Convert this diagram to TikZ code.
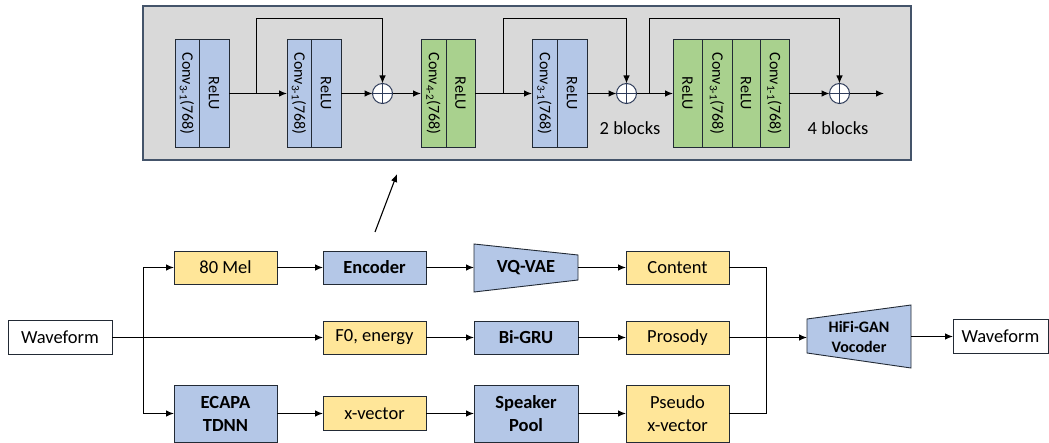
\documentclass[tikz,border=0pt]{standalone}
\usepackage{fontspec}
\setmainfont{Carlito}
\usetikzlibrary{arrows.meta}
\definecolor{bblue}{HTML}{B4C7E7}
\definecolor{byellow}{HTML}{FFE699}
\definecolor{bgreen}{HTML}{A9D18E}
\definecolor{bgray}{HTML}{D9D9D9}
\definecolor{bframe}{HTML}{44546A}
\definecolor{edgec}{HTML}{222A35}
\definecolor{circc}{HTML}{2F3C5A}
\begin{document}
\begin{tikzpicture}[x=1pt,y=-1pt,
  box/.style={draw=edgec, line width=0.9pt, inner sep=0pt, outer sep=0pt, minimum width=103pt, minimum height=33pt, align=center, font=\fontsize{18.5}{23}\selectfont},
  yel/.style={box, fill=byellow},
  blu/.style={box, fill=bblue, font=\fontsize{18.5}{23}\selectfont\bfseries},
  wht/.style={box, fill=white},
  shapelbl/.style={inner sep=0pt, outer sep=0pt, align=center},
  cell/.style={draw=edgec, line width=0.9pt, inner sep=0pt, outer sep=0pt, minimum height=108pt},
  rot/.style={rotate=-90, inner sep=0pt, font=\fontsize{16}{18}\selectfont},
  sumc/.style={draw=circc, line width=1pt, fill=white, circle, minimum size=20pt, inner sep=0pt, outer sep=0pt},
  arr/.style={line width=1.1pt, -{Latex[length=8pt,width=6.5pt]}},
  ln/.style={line width=1.1pt},
  lbl/.style={inner sep=0pt, font=\fontsize{18.5}{20}\selectfont}
]
\useasboundingbox (0,0) rectangle (1049,443);

% ---------- top panel ----------
\draw[fill=bgray, draw=bframe, line width=1.2pt] (143,6) rectangle (911,160);

% block 1
\node[cell, fill=bblue, minimum width=24pt] (b1a) at (187,93.5) {};
\node[cell, fill=bblue, minimum width=30pt] (b1b) at (214,93.5) {};
\node[rot] at (b1a) {Conv\textsubscript{3-1}(768)};
\node[rot] at (b1b) {ReLU};
% block 2
\node[cell, fill=bblue, minimum width=24pt] (b2a) at (299,93.5) {};
\node[cell, fill=bblue, minimum width=30pt] (b2b) at (326,93.5) {};
\node[rot] at (b2a) {Conv\textsubscript{3-1}(768)};
\node[rot] at (b2b) {ReLU};
% block 3
\node[cell, fill=bgreen, minimum width=25pt] (b3a) at (433.5,93.5) {};
\node[cell, fill=bgreen, minimum width=29pt] (b3b) at (460.5,93.5) {};
\node[rot] at (b3a) {Conv\textsubscript{4-2}(768)};
\node[rot] at (b3b) {ReLU};
% block 4
\node[cell, fill=bblue, minimum width=25pt] (b4a) at (544.5,93.5) {};
\node[cell, fill=bblue, minimum width=30pt] (b4b) at (572,93.5) {};
\node[rot] at (b4a) {Conv\textsubscript{3-1}(768)};
\node[rot] at (b4b) {ReLU};
% block 5
\node[cell, fill=bgreen, minimum width=29pt] (b5a) at (687.5,93.5) {};
\node[cell, fill=bgreen, minimum width=30pt] (b5b) at (717,93.5) {};
\node[cell, fill=bgreen, minimum width=28pt] (b5c) at (746,93.5) {};
\node[cell, fill=bgreen, minimum width=29pt] (b5d) at (774.5,93.5) {};
\node[rot] at (b5a) {ReLU};
\node[rot] at (b5b) {Conv\textsubscript{3-1}(768)};
\node[rot] at (b5c) {ReLU};
\node[rot] at (b5d) {Conv\textsubscript{1-1}(768)};

% sums
\node[sumc] (c1) at (382.5,93.5) {};
\node[sumc] (c2) at (626.5,93.5) {};
\node[sumc] (c3) at (839.5,93.5) {};
\foreach \c in {c1,c2,c3}{
  \draw[draw=circc, line width=1pt] (\c.north) -- (\c.south) (\c.west) -- (\c.east);
}

\coordinate (s1) at (256.5,93.5);
\coordinate (s2) at (503.5,93.5);
\coordinate (s3) at (649.5,93.5);
\coordinate (out) at (884,93.5);

\draw[arr] (b1b.east) -- (b2a.west);
\draw[arr] (b2b.east) -- (c1.west);
\draw[arr] (c1.east) -- (b3a.west);
\draw[arr] (b3b.east) -- (b4a.west);
\draw[arr] (b4b.east) -- (c2.west);
\draw[arr] (c2.east) -- (b5a.west);
\draw[arr] (b5d.east) -- (c3.west);
\draw[arr] (c3.east) -- (out);

\draw[arr] (s1) -- ++(0,-75) -| (c1.north);
\draw[arr] (s2) -- ++(0,-75) -| (c2.north);
\draw[arr] (s3) -- ++(0,-75) -| (c3.north);

\node[lbl] (t2) at (630,128) {2 blocks};
\node[lbl] (t4) at (838,128) {4 blocks};

% pointer arrow
\coordinate (pa) at (375,232);
\coordinate (pb) at (397,174);
\draw[arr] (pa) -- (pb);

% ---------- bottom ----------
\node[wht, minimum width=104pt, minimum height=34pt] (wf) at (60,337.5) {Waveform};
\node[yel] (mel) at (225.5,267.5) {80 Mel};
\node[blu] (enc) at (374.5,267.5) {Encoder};
\node[yel] (f0) at (374.5,337.5) {F0, energy};
\node[blu, minimum height=57pt] (ecapa) at (225.5,413.5) {ECAPA\\TDNN};
\node[yel, minimum height=34pt] (xvec) at (374.5,413.5) {x-vector};

\draw[fill=bblue, draw=edgec, line width=0.9pt] (474,244) -- (578,255) -- (578,280) -- (474,292) -- cycle;
\node[shapelbl, minimum width=104pt, minimum height=33pt, font=\fontsize{18.5}{23}\selectfont\bfseries] (vq) at (526,267.5) {VQ-VAE};
\node[blu, minimum width=104pt] (bigru) at (526,337.5) {Bi-GRU};
\node[blu, minimum width=104pt, minimum height=57pt] (spk) at (526,413.5) {Speaker\\Pool};

\node[yel] (content) at (677.5,267.5) {Content};
\node[yel] (prosody) at (677.5,337.5) {Prosody};
\node[yel, minimum height=57pt] (pseudo) at (677.5,413.5) {Pseudo\\x-vector};

\draw[fill=bblue, draw=edgec, line width=0.9pt] (807,319) -- (911,305) -- (911,368) -- (807,353) -- cycle;
\node[shapelbl, minimum width=104pt, minimum height=34pt, font=\fontsize{16}{20}\selectfont\bfseries] (hifi) at (859,337) {HiFi-GAN\\Vocoder};
\node[wht, minimum width=95pt, minimum height=34pt] (wfo) at (1000.5,336.5) {Waveform};

\coordinate (br) at (143.5,337.5);
\coordinate (mg) at (766.5,337.5);

\draw[arr] (wf.east) -- (f0.west);
\draw[arr] (br) |- (mel.west);
\draw[arr] (br) |- (ecapa.west);
\draw[arr] (mel) -- (enc);
\draw[arr] (enc) -- (vq);
\draw[arr] (vq) -- (content);
\draw[arr] (f0) -- (bigru);
\draw[arr] (bigru) -- (prosody);
\draw[arr] (ecapa.east |- xvec) -- (xvec.west);
\draw[arr] (xvec.east |- spk) -- (spk.west);
\draw[arr] (spk) -- (pseudo);
\draw[ln] (content.east) -| (mg) |- (pseudo.east);
\draw[arr] (prosody.east) -- (hifi.west |- prosody.east);
\draw[arr] (hifi.east |- wfo) -- (wfo.west);
\end{tikzpicture}
\end{document}
